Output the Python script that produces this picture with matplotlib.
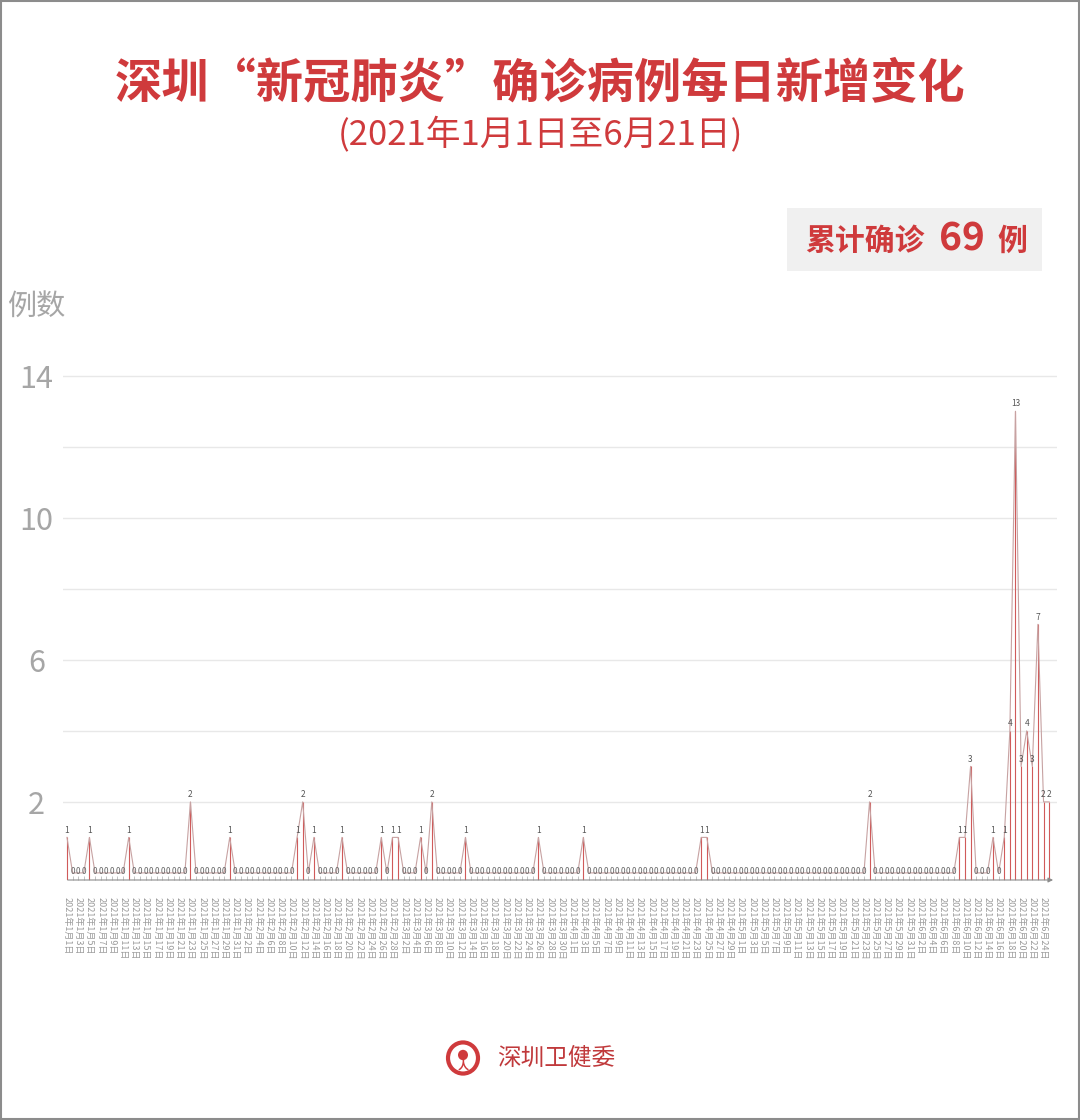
import numpy as np
import pandas as pd
import matplotlib.pyplot as plt
from matplotlib.patches import Rectangle, Circle

plt.rcParams['font.family'] = ['Noto Sans CJK SC', 'DejaVu Sans']

# daily new confirmed cases (one value per day from 1 Jan)
daily_new = [1, 0, 0, 0, 1, 0, 0, 0, 0, 0,
             0, 1, 0, 0, 0, 0, 0, 0, 0, 0,
             0, 0, 2, 0, 0, 0, 0, 0, 0, 1,
             0, 0, 0, 0, 0, 0, 0, 0, 0, 0,
             0, 1, 2, 0, 1, 0, 0, 0, 0, 1,
             0, 0, 0, 0, 0, 0, 1, 0, 1, 1,
             0, 0, 0, 1, 0, 2, 0, 0, 0, 0,
             0, 1, 0, 0, 0, 0, 0, 0, 0, 0,
             0, 0, 0, 0, 1, 0, 0, 0, 0, 0,
             0, 0, 1, 0, 0, 0, 0, 0, 0, 0,
             0, 0, 0, 0, 0, 0, 0, 0, 0, 0,
             0, 0, 0, 1, 1, 0, 0, 0, 0, 0,
             0, 0, 0, 0, 0, 0, 0, 0, 0, 0,
             0, 0, 0, 0, 0, 0, 0, 0, 0, 0,
             0, 0, 0, 2, 0, 0, 0, 0, 0, 0,
             0, 0, 0, 0, 0, 0, 0, 0, 0, 1,
             1, 3, 0, 0, 0, 1, 0, 1, 4, 13,
             3, 4, 3, 7, 2, 2]
start_date = '2021-01-01'
total_cases = 69
y_ticks = [2, 6, 10, 14]

title = '深圳“新冠肺炎”确诊病例每日新增变化'
subtitle = '(2021年1月1日至6月21日)'

red = '#cf3a3c'
grey = '#a6a6a6'

dates = pd.date_range(start_date, periods=len(daily_new))
date_labels = [f'{d.year}年{d.month}月{d.day}日' for d in dates]
days = np.arange(len(daily_new))
vals = np.array(daily_new)

W, H = 1080, 1120
fig = plt.figure(figsize=(W / 100, H / 100), dpi=100)
fig.patch.set_facecolor('white')
fig.patches.append(Rectangle((0.001, 0.001), 0.998, 0.998, transform=fig.transFigure,
                             fill=False, edgecolor='#8c8c8c', lw=1.5))

# title block
fig.text(0.5, 1 - 83 / H, title, ha='center', va='center', fontsize=34, fontweight='bold', color=red)
fig.text(0.5, 1 - 135 / H, subtitle, ha='center', va='center', fontsize=25, color=red)

# total box
fig.patches.append(Rectangle((787 / W, 1 - 271 / H), 255 / W, 63 / H, transform=fig.transFigure,
                             facecolor='#f0f0f0', edgecolor='none'))
fig.text(805 / W, 1 - 241 / H, '累计确诊', ha='left', va='center', fontsize=21.5, fontweight='bold', color=red)
fig.text(962 / W, 1 - 239 / H, str(total_cases), ha='center', va='center', fontsize=28, fontweight='bold', color=red)
fig.text(997 / W, 1 - 241 / H, '例', ha='left', va='center', fontsize=21.5, fontweight='bold', color=red)

# y unit label
fig.text(36 / W, 1 - 308 / H, '例数', ha='center', va='center', fontsize=21, color=grey)

ax = fig.add_axes([63 / W, 1 - 880 / H, (1057 - 63) / W, (880 - 358) / H])
ax.set_xlim(-0.71, 176.4)
ax.set_ylim(-0.2, 14.5)
for s in ax.spines.values():
    s.set_visible(False)

ax.set_yticks(y_ticks)
ax.set_yticks([4, 8, 12], minor=True)
ax.grid(axis='y', which='both', color='#e8e8e8', lw=1)
ax.tick_params(axis='y', which='both', length=0, labelsize=22, labelcolor=grey, pad=19)
for lab in ax.get_yticklabels():
    lab.set_horizontalalignment('center')

ax.set_xticks(days[::2])
ax.set_xticklabels(date_labels[::2], rotation=-90, fontsize=6.5, color='#9a9a9a')
ax.set_xticks(days, minor=True)
ax.tick_params(axis='x', which='both', length=3, width=0.5, color='#aaaaaa', direction='in', pad=12)

# baseline with arrow
ax.annotate('', xy=(176.2, -0.2), xytext=(-0.3, -0.2),
            arrowprops=dict(arrowstyle='-|>', color='#8c8c8c', lw=0.8, mutation_scale=7),
            annotation_clip=False)

nz = vals > 0
ax.vlines(days[nz], -0.2, vals[nz], color='#d05a5a', lw=0.8)
ax.plot(days, vals, color='#c7a2a2', lw=0.8)

for i, v in zip(days, vals):
    if v == 0:
        ax.text(i, 0.05, '0', ha='center', va='center', fontsize=6, color='#666666')
    else:
        ax.annotate(str(v), (i, v), xytext=(0, 2), textcoords='offset points',
                    ha='center', va='bottom', fontsize=6, color='#555555')

# footer logo
logo_x, logo_y = 463, 1058
fig.patches.append(Circle((logo_x / W, 1 - logo_y / H), 15 / W, transform=fig.transFigure,
                          facecolor='white', edgecolor=red, lw=3))
fig.patches.append(Circle((logo_x / W, 1 - (logo_y - 3) / H), 5 / W, transform=fig.transFigure,
                          facecolor=red, edgecolor='none'))
fig.text(logo_x / W, 1 - (logo_y + 7) / H, '人', ha='center', va='center', fontsize=8,
         fontweight='bold', color=red)
fig.text(497 / W, 1 - logo_y / H, '深圳卫健委', ha='left', va='center', fontsize=17, color='#c0393b')

fig.savefig('out.png', dpi=100, facecolor='white')
